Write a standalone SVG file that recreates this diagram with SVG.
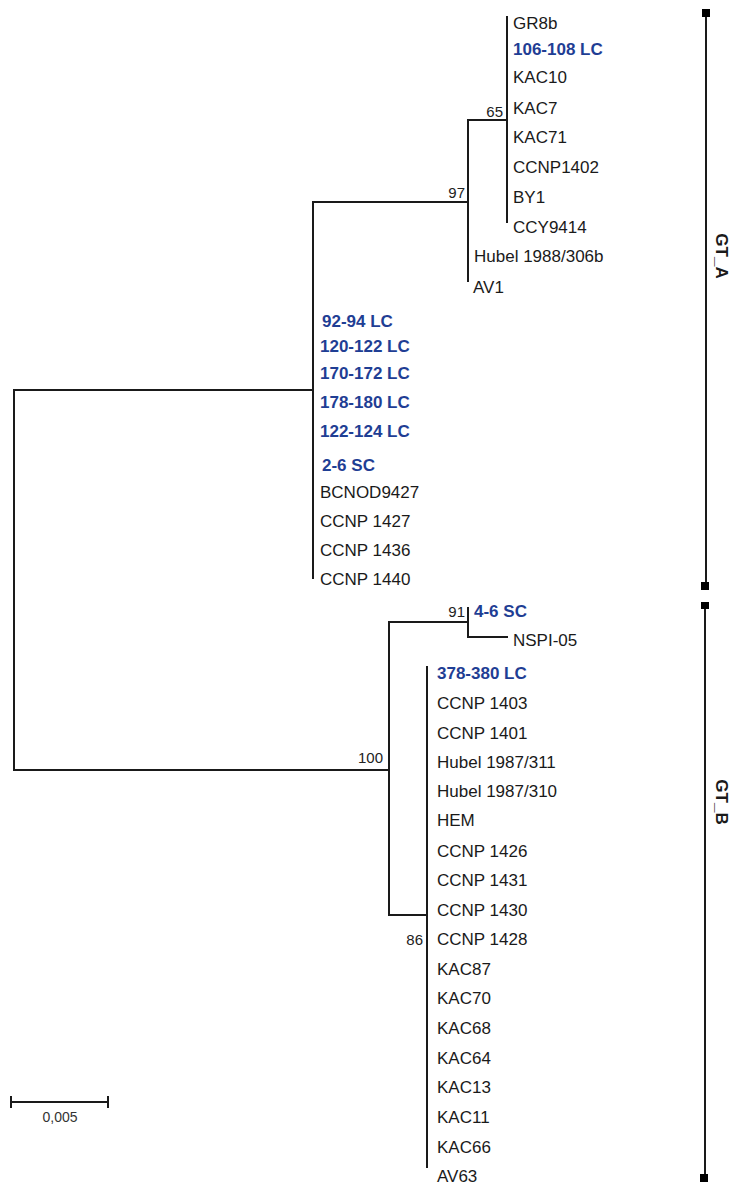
<svg xmlns="http://www.w3.org/2000/svg" width="733" height="1184" viewBox="0 0 733 1184">
<style>
.br{fill:none;stroke:#1a1a1a;stroke-width:2;stroke-linecap:square}
.bar{fill:none;stroke:#1a1a1a;stroke-width:2}
.lf{font-family:"Liberation Sans",Arial,sans-serif;font-size:17px;fill:#1a1a1a}
.hl{font-family:"Liberation Sans",Arial,sans-serif;font-size:17px;font-weight:bold;fill:#1f3e94}
.bs{font-family:"Liberation Sans",Arial,sans-serif;font-size:15px;fill:#222;text-anchor:end}
.gt{font-family:"Liberation Sans",Arial,sans-serif;font-size:17px;font-weight:bold;fill:#1a1a1a;text-anchor:middle}
.sq{fill:#000}
</style>
<rect width="733" height="1184" fill="#fff"/>
<g id="connectors">
<path class="br" d="M14,390 V770"/>
<path class="br" d="M14,390 H313"/>
<path class="br" d="M14,770 H389"/>
<path class="br" d="M313,202 V578"/>
<path class="br" d="M313,202 H468"/>
<path class="br" d="M468,120 V281"/>
<path class="br" d="M468,120 H507"/>
<path class="br" d="M507,17 V222"/>
<path class="br" d="M389,622 V915"/>
<path class="br" d="M389,622 H468"/>
<path class="br" d="M468,608 V637 H507"/>
<path class="br" d="M389,915 H427"/>
<path class="br" d="M427,667 V1167"/>
</g>
<g id="bootstrap">
<text class="bs" x="503" y="117">65</text>
<text class="bs" x="465" y="198">97</text>
<text class="bs" x="465" y="617">91</text>
<text class="bs" x="383" y="763">100</text>
<text class="bs" x="423" y="945">86</text>
</g>
<g id="clade65">
<text class="lf" x="513" y="29">GR8b</text>
<text class="hl" x="513" y="55">106-108 LC</text>
<text class="lf" x="513" y="83">KAC10</text>
<text class="lf" x="513" y="114">KAC7</text>
<text class="lf" x="513" y="143">KAC71</text>
<text class="lf" x="513" y="173">CCNP1402</text>
<text class="lf" x="513" y="203">BY1</text>
<text class="lf" x="513" y="233">CCY9414</text>
</g>
<g id="clade97">
<text class="lf" x="474" y="262">Hubel 1988/306b</text>
<text class="lf" x="473" y="293">AV1</text>
</g>
<g id="cladeGTA">
<text class="hl" x="322" y="327">92-94 LC</text>
<text class="hl" x="320" y="352">120-122 LC</text>
<text class="hl" x="320" y="379">170-172 LC</text>
<text class="hl" x="320" y="408">178-180 LC</text>
<text class="hl" x="320" y="437">122-124 LC</text>
<text class="hl" x="322" y="471">2-6 SC</text>
<text class="lf" x="320" y="498">BCNOD9427</text>
<text class="lf" x="320" y="527">CCNP 1427</text>
<text class="lf" x="320" y="556">CCNP 1436</text>
<text class="lf" x="320" y="585">CCNP 1440</text>
</g>
<g id="clade91">
<text class="hl" x="474" y="617">4-6 SC</text>
<text class="lf" x="513" y="646">NSPI-05</text>
</g>
<g id="clade86">
<text class="hl" x="437" y="679">378-380 LC</text>
<text class="lf" x="437" y="709">CCNP 1403</text>
<text class="lf" x="437" y="739">CCNP 1401</text>
<text class="lf" x="437" y="768">Hubel 1987/311</text>
<text class="lf" x="437" y="797">Hubel 1987/310</text>
<text class="lf" x="437" y="826">HEM</text>
<text class="lf" x="437" y="857">CCNP 1426</text>
<text class="lf" x="437" y="886">CCNP 1431</text>
<text class="lf" x="437" y="916">CCNP 1430</text>
<text class="lf" x="437" y="945">CCNP 1428</text>
<text class="lf" x="437" y="975">KAC87</text>
<text class="lf" x="437" y="1004">KAC70</text>
<text class="lf" x="437" y="1034">KAC68</text>
<text class="lf" x="437" y="1064">KAC64</text>
<text class="lf" x="437" y="1093">KAC13</text>
<text class="lf" x="437" y="1123">KAC11</text>
<text class="lf" x="437" y="1153">KAC66</text>
<text class="lf" x="437" y="1182">AV63</text>
</g>
<g id="GT_A">
<path class="bar" d="M706,13 V586"/>
<rect class="sq" x="702" y="9" width="8" height="8"/>
<rect class="sq" x="701" y="582" width="8" height="8"/>
<text class="gt" transform="translate(716,256) rotate(90)">GT_A</text>
</g>
<g id="GT_B">
<path class="bar" d="M705,605 V1178"/>
<rect class="sq" x="701" y="602" width="8" height="7"/>
<rect class="sq" x="700" y="1174" width="8" height="8"/>
<text class="gt" transform="translate(716,802) rotate(90)">GT_B</text>
</g>
<g id="scale">
<path class="br" d="M11,1102 H108"/>
<path class="br" d="M11,1097 V1107 M108,1097 V1107"/>
<text class="bs" x="60" y="1122" style="text-anchor:middle;fill:#333;font-size:14px">0,005</text>
</g>
</svg>
